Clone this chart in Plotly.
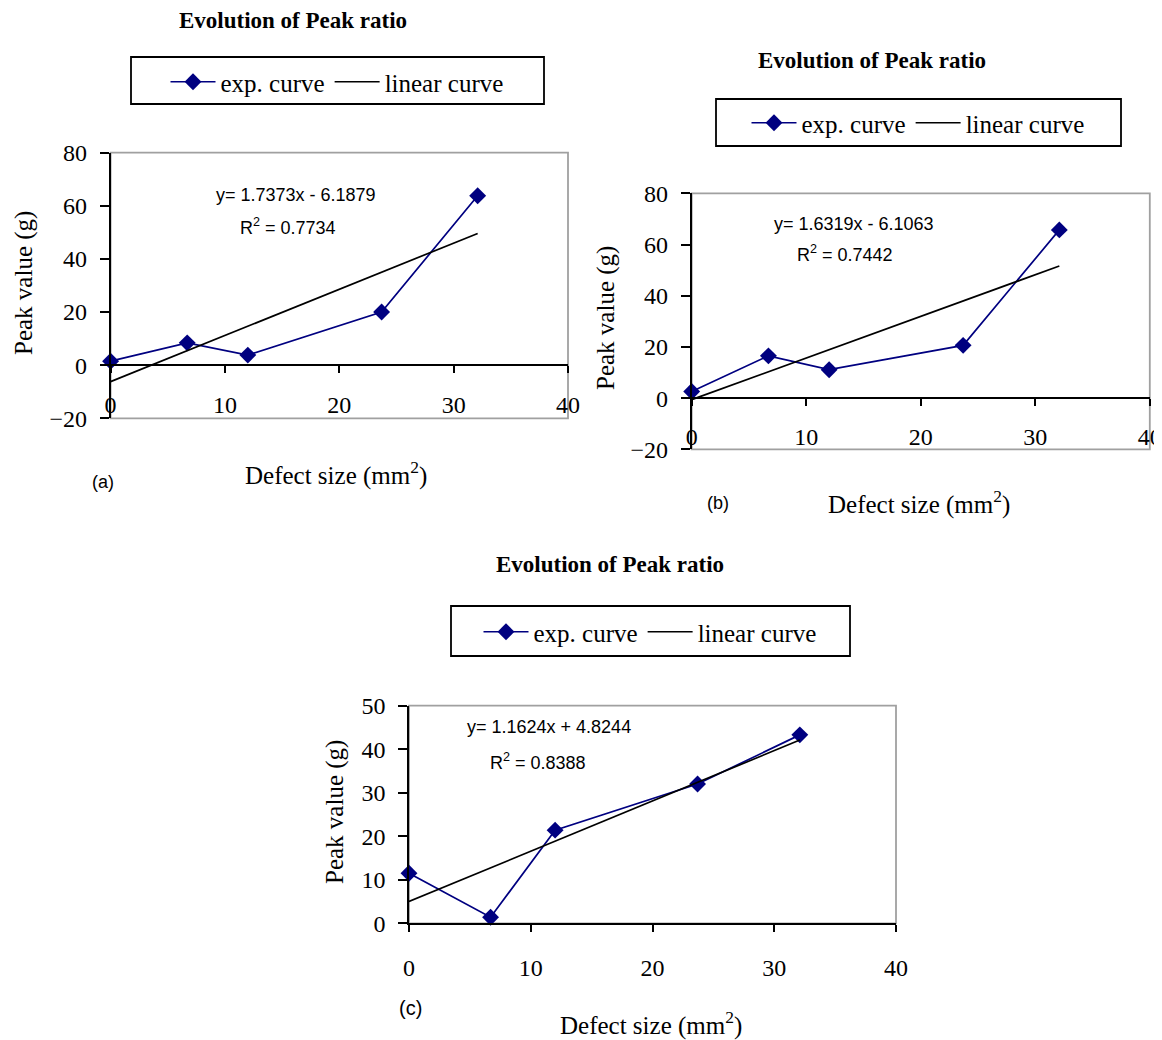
import plotly.graph_objects as go

# ---------------- data ----------------
defect_size = [0, 6.7, 12.0, 23.7, 32.1]
peak_a = [1.5, 8.4, 3.8, 20.0, 63.8]
peak_b = [2.6, 16.5, 11.1, 20.6, 65.7]
peak_c = [11.5, 1.4, 21.4, 32.0, 43.3]

fit_x = [0, 32.1]
fit_a = [-6.2, 49.6]
fit_b = [-0.6, 51.6]
fit_c = [5.0, 42.1]

eq_a = ["y= 1.7373x - 6.1879", "R<sup>2</sup> = 0.7734"]
eq_b = ["y= 1.6319x - 6.1063", "R<sup>2</sup> = 0.7442"]
eq_c = ["y= 1.1624x + 4.8244", "R<sup>2</sup> = 0.8388"]

x_ticks = [0, 10, 20, 30, 40]
y_ticks_ab = [-20, 0, 20, 40, 60, 80]
y_ticks_c = [0, 10, 20, 30, 40, 50]

title_text = "Evolution of Peak ratio"
x_title = "Defect size (mm<sup>2</sup>)"
y_title = "Peak value (g)"
series_names = ["exp. curve", "linear curve"]

# ---------------- layout helpers ----------------
PAGE_OFF = 8            # default body margin of the html page
W, H = 1162 - PAGE_OFF, 1040 - PAGE_OFF
SERIF = "Liberation Serif, Times New Roman, serif"
SANS = "Liberation Sans, Arial, sans-serif"
NAVY = "#000080"


def px(x):
    return (x - PAGE_OFF) / W


def py(y):
    return 1 - (y - PAGE_OFF) / H


panels = [
    dict(label="(a)", y=peak_a, fy=fit_a, eq=eq_a, yr=[-20, 80], yt=y_ticks_ab,
         box=(110.6, 568, 152.7, 418.3), zero_y=364.7, tl_y=405,
         eqpos=[(296, 195), (288, 227)], title=(293, 20),
         legbox=(131, 544, 57, 104), legc=(337, 82),
         xt=(336, 473), yt_pos=(24, 283), labpos=(103, 482)),
    dict(label="(b)", y=peak_b, fy=fit_b, eq=eq_b, yr=[-20, 80], yt=y_ticks_ab,
         box=(691.7, 1149.8, 193.3, 449.3), zero_y=398.3, tl_y=437,
         eqpos=[(854, 224), (845, 254)], title=(872, 61),
         legbox=(716, 1121, 99, 146), legc=(918, 123),
         xt=(919, 503), yt_pos=(606, 318), labpos=(718, 503)),
    dict(label="(c)", y=peak_c, fy=fit_c, eq=eq_c, yr=[0, 50], yt=y_ticks_c,
         box=(409, 896, 705.7, 923.3), zero_y=923.3, tl_y=967,
         eqpos=[(549, 727), (538, 761)], title=(610, 564),
         legbox=(451, 850, 606, 656), legc=(650, 632),
         xt=(651, 1023), yt_pos=(335, 812), labpos=(410, 1008)),
]

fig = go.Figure()
annotations = []
shapes = []
layout = dict(
    width=W, height=H, margin=dict(l=0, r=0, t=0, b=0, autoexpand=False),
    paper_bgcolor="white", plot_bgcolor="white", showlegend=True,
)

TICK_FONT = 24
for i, p in enumerate(panels, start=1):
    sfx = "" if i == 1 else str(i)
    xa, ya = "x" + sfx, "y" + sfx
    leg = "legend" + sfx
    left, right, top, bottom = p["box"]
    xdom = [px(left), px(right)]
    ydom = [py(bottom), py(top)]

    fig.add_trace(go.Scatter(
        x=defect_size, y=p["y"], mode="lines+markers", name=series_names[0],
        line=dict(color=NAVY, width=1.7),
        marker=dict(symbol="diamond", size=13, color=NAVY),
        xaxis=xa, yaxis=ya, legend=leg, cliponaxis=False,
    ))
    fig.add_trace(go.Scatter(
        x=fit_x, y=p["fy"], mode="lines", name=series_names[1],
        line=dict(color="black", width=1.7),
        xaxis=xa, yaxis=ya, legend=leg, cliponaxis=False,
    ))

    ticklen_x = 7
    dist = p["tl_y"] - p["zero_y"]
    standoff = max(0, dist - ticklen_x - TICK_FONT / 2 - 10)
    xaxis = dict(
        domain=xdom, range=[0, 40], tickvals=x_ticks, ticks="outside",
        ticklen=ticklen_x, tickwidth=1.6, tickcolor="black",
        showline=True, linecolor="black", linewidth=1.6,
        showgrid=False, zeroline=False, fixedrange=True, automargin=False,
        tickfont=dict(family=SERIF, size=TICK_FONT, color="black"),
        ticklabelstandoff=int(round(standoff)),
    )
    if p["yr"][0] < 0:
        frac = (0 - p["yr"][0]) / (p["yr"][1] - p["yr"][0])
        xaxis.update(anchor="free", position=ydom[0] + frac * (ydom[1] - ydom[0]))
    else:
        xaxis.update(anchor=ya)
    yaxis = dict(
        domain=ydom, range=p["yr"], tickvals=p["yt"], ticks="outside",
        ticklen=9, tickwidth=1.6, tickcolor="black",
        showline=True, linecolor="black", linewidth=1.6,
        showgrid=False, zeroline=False, fixedrange=True, anchor=xa, automargin=False,
        tickfont=dict(family=SERIF, size=TICK_FONT, color="black"),
        ticklabelstandoff=8,
    )
    layout["xaxis" + sfx] = xaxis
    layout["yaxis" + sfx] = yaxis

    # gray plot-area frame
    shapes.append(dict(type="rect", xref=xa + " domain", yref=ya + " domain",
                       x0=0, x1=1, y0=0, y1=1, layer="below",
                       line=dict(color="#a0a0a0", width=1.8)))
    # legend frame
    lb = p["legbox"]
    shapes.append(dict(type="rect", xref="paper", yref="paper",
                       x0=px(lb[0]), x1=px(lb[1]), y0=py(lb[3]), y1=py(lb[2]),
                       line=dict(color="black", width=1.8)))
    layout[leg] = dict(
        orientation="h", x=px(p["legc"][0]), y=py(p["legc"][1]),
        xanchor="center", yanchor="middle", bgcolor="rgba(0,0,0,0)",
        borderwidth=0, font=dict(family=SERIF, size=25, color="black"),
        itemwidth=45, tracegroupgap=0,
    )

    annotations += [
        dict(text="<b>" + title_text + "</b>", x=px(p["title"][0]), y=py(p["title"][1]),
             font=dict(family=SERIF, size=23, color="black")),
        dict(text=x_title, x=px(p["xt"][0]), y=py(p["xt"][1]),
             font=dict(family=SERIF, size=25, color="black")),
        dict(text=y_title, x=px(p["yt_pos"][0]), y=py(p["yt_pos"][1]), textangle=-90,
             font=dict(family=SERIF, size=25, color="black")),
        dict(text=p["label"], x=px(p["labpos"][0]), y=py(p["labpos"][1]),
             font=dict(family=SANS, size=20 if p["label"] == "(c)" else 18, color="black")),
        dict(text=p["eq"][0], x=px(p["eqpos"][0][0]), y=py(p["eqpos"][0][1]),
             font=dict(family=SANS, size=18, color="black")),
        dict(text=p["eq"][1], x=px(p["eqpos"][1][0]), y=py(p["eqpos"][1][1]),
             font=dict(family=SANS, size=18, color="black")),
    ]

for a in annotations:
    a.update(xref="paper", yref="paper", showarrow=False, xanchor="center", yanchor="middle")

layout["annotations"] = annotations
layout["shapes"] = shapes
fig.update_layout(**layout)
fig.write_html("out.html")
